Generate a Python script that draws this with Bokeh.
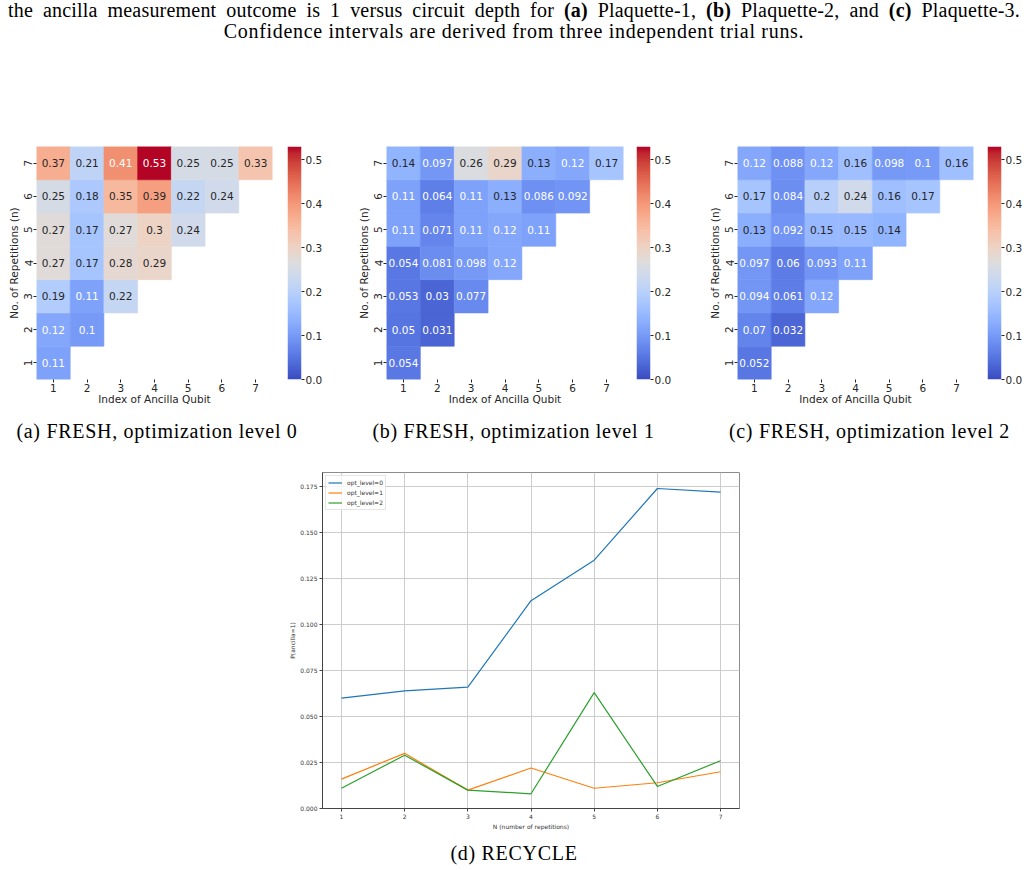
import numpy as np
from bokeh.plotting import figure
from bokeh.models import (ColumnDataSource, LinearColorMapper, FixedTicker,
                          PrintfTickFormatter, Range1d, Div, Spacer)
from bokeh.transform import transform
from bokeh.layouts import column, row
from bokeh.embed import file_html
from bokeh.resources import INLINE
from bokeh.core.properties import value

SANS = "DejaVu Sans"
SERIF = "Liberation Serif"
INK = "#262626"

# ---------------------------------------------------------------- data
ancilla_index = [1, 2, 3, 4, 5, 6, 7]
repetitions = [1, 2, 3, 4, 5, 6, 7]

# P(ancilla = 1), FRESH scheme; row k holds n = k + 1 repetitions, ancillas 1..n
fresh_opt0 = [
    [0.11],
    [0.12, 0.1],
    [0.19, 0.11, 0.22],
    [0.27, 0.17, 0.28, 0.29],
    [0.27, 0.17, 0.27, 0.3, 0.24],
    [0.25, 0.18, 0.35, 0.39, 0.22, 0.24],
    [0.37, 0.21, 0.41, 0.53, 0.25, 0.25, 0.33],
]
fresh_opt1 = [
    [0.054],
    [0.05, 0.031],
    [0.053, 0.03, 0.077],
    [0.054, 0.081, 0.098, 0.12],
    [0.11, 0.071, 0.11, 0.12, 0.11],
    [0.11, 0.064, 0.11, 0.13, 0.086, 0.092],
    [0.14, 0.097, 0.26, 0.29, 0.13, 0.12, 0.17],
]
fresh_opt2 = [
    [0.052],
    [0.07, 0.032],
    [0.094, 0.061, 0.12],
    [0.097, 0.06, 0.093, 0.11],
    [0.13, 0.092, 0.15, 0.15, 0.14],
    [0.17, 0.084, 0.2, 0.24, 0.16, 0.17],
    [0.12, 0.088, 0.12, 0.16, 0.098, 0.1, 0.16],
]
cbar_ticks = [0.0, 0.1, 0.2, 0.3, 0.4, 0.5]

# RECYCLE scheme
recycle_n = [1, 2, 3, 4, 5, 6, 7]
recycle_opt0 = [0.060, 0.064, 0.066, 0.113, 0.135, 0.174, 0.172]
recycle_opt1 = [0.016, 0.030, 0.010, 0.022, 0.011, 0.014, 0.020]
recycle_opt2 = [0.011, 0.029, 0.010, 0.008, 0.063, 0.012, 0.026]
recycle_yticks = [0.0, 0.025, 0.05, 0.075, 0.1, 0.125, 0.15, 0.175]

VMAX = max(max(r) for r in fresh_opt0 + fresh_opt1 + fresh_opt2)

# ---------------------------------------------------------------- colour map
COOLWARM = [
    (59, 76, 192), (68, 90, 204), (77, 104, 215), (87, 117, 225), (98, 130, 234),
    (108, 142, 241), (119, 154, 247), (130, 165, 251), (141, 176, 254), (152, 185, 255),
    (163, 194, 255), (174, 201, 253), (184, 208, 249), (194, 213, 244), (204, 217, 238),
    (213, 219, 230), (221, 221, 221), (229, 216, 209), (236, 211, 197), (241, 204, 185),
    (245, 196, 173), (247, 187, 160), (247, 177, 148), (247, 166, 135), (244, 154, 123),
    (241, 141, 111), (236, 127, 99), (229, 112, 88), (222, 96, 77), (213, 80, 66),
    (203, 62, 56), (192, 40, 47), (180, 4, 38),
]


def build_palette(n=256):
    out = []
    m = len(COOLWARM) - 1
    for i in range(n):
        pos = i / (n - 1) * m
        k = min(int(pos), m - 1)
        f = pos - k
        c = [round(a + (b - a) * f) for a, b in zip(COOLWARM[k], COOLWARM[k + 1])]
        out.append("#%02x%02x%02x" % tuple(c))
    return out


PALETTE = build_palette()


def rel_lum(hexcol):
    rgb = [int(hexcol[i:i + 2], 16) / 255 for i in (1, 3, 5)]
    lin = [c / 12.92 if c <= 0.03928 else ((c + 0.055) / 1.055) ** 2.4 for c in rgb]
    return 0.2126 * lin[0] + 0.7152 * lin[1] + 0.0722 * lin[2]


def text_color(v):
    idx = min(int(v / VMAX * len(PALETTE)), len(PALETTE) - 1)
    return "white" if rel_lum(PALETTE[idx]) < 0.408 else INK


# ---------------------------------------------------------------- heatmaps
HM_H = 280
HM_TOP = 10
HM_BOTTOM = 37
HM_FONT = "10.5px"


def heatmap(values, left, frame_w, right):
    xs, ys, vs, labels, tcs = [], [], [], [], []
    for n, row_vals in zip(repetitions, values):
        for k, v in zip(ancilla_index, row_vals):
            xs.append(k)
            ys.append(n)
            vs.append(v)
            labels.append(format(v, ".2g"))
            tcs.append(text_color(v))
    src = ColumnDataSource(dict(x=xs, y=ys, v=vs, label=labels, tc=tcs))
    mapper = LinearColorMapper(palette=PALETTE, low=0, high=VMAX)

    p = figure(width=left + frame_w + right, height=HM_H,
               x_range=Range1d(0.5, 7.5), y_range=Range1d(0.5, 7.5),
               output_backend="svg", toolbar_location=None,
               min_border_left=left, min_border_right=right,
               min_border_top=HM_TOP, min_border_bottom=HM_BOTTOM)
    p.rect("x", "y", 1, 1, source=src, fill_color=transform("v", mapper),
           line_color=transform("v", mapper), line_width=0.6)
    p.text("x", "y", text="label", source=src, text_color="tc",
           text_align="center", text_baseline="middle",
           text_font=value(SANS), text_font_size=value(HM_FONT))

    p.xgrid.visible = False
    p.ygrid.visible = False
    p.outline_line_color = None
    p.background_fill_color = "white"
    p.border_fill_color = "white"

    p.xaxis.ticker = FixedTicker(ticks=ancilla_index)
    p.yaxis.ticker = FixedTicker(ticks=repetitions)
    p.xaxis.axis_label = "Index of Ancilla Qubit"
    p.yaxis.axis_label = "No. of Repetitions (n)"
    p.yaxis.major_label_orientation = "vertical"
    for ax in (p.xaxis, p.yaxis):
        ax.axis_line_color = None
        ax.minor_tick_line_color = None
        ax.major_tick_in = 0
        ax.major_tick_out = 3
        ax.major_tick_line_color = INK
        ax.major_label_standoff = 1
        ax.major_label_text_font = SANS
        ax.major_label_text_font_size = HM_FONT
        ax.major_label_text_color = INK
        ax.axis_label_text_font = SANS
        ax.axis_label_text_font_size = HM_FONT
        ax.axis_label_text_font_style = "normal"
        ax.axis_label_text_color = INK
    p.xaxis.axis_label_standoff = -2
    p.yaxis.axis_label_standoff = 2
    return p, mapper


def colorbar(mapper, right):
    p = figure(width=14 + right, height=HM_H,
               x_range=Range1d(0, 1), y_range=Range1d(0, VMAX),
               y_axis_location="right",
               output_backend="svg", toolbar_location=None,
               min_border_left=0, min_border_right=right,
               min_border_top=HM_TOP, min_border_bottom=HM_BOTTOM)
    grad = np.linspace(0, VMAX, 256).reshape(256, 1)
    p.image(image=[grad], x=0, y=0, dw=1, dh=VMAX, color_mapper=mapper)
    p.xaxis.visible = False
    p.xgrid.visible = False
    p.ygrid.visible = False
    p.outline_line_color = None
    ax = p.yaxis
    ax.ticker = FixedTicker(ticks=cbar_ticks)
    ax.formatter = PrintfTickFormatter(format="%.1f")
    ax.axis_line_color = None
    ax.minor_tick_line_color = None
    ax.major_tick_in = 0
    ax.major_tick_out = 3
    ax.major_tick_line_color = INK
    ax.major_label_standoff = 1
    ax.major_label_text_font = SANS
    ax.major_label_text_font_size = HM_FONT
    ax.major_label_text_color = INK
    return p


fa, ma = heatmap(fresh_opt0, 36, 236, 15)
ca = colorbar(ma, 49)
fb, mb = heatmap(fresh_opt1, 36, 237, 13)
cb = colorbar(mb, 50)
fc, mc = heatmap(fresh_opt2, 37, 236, 14)
cc = colorbar(mc, 25)

# ---------------------------------------------------------------- recycle line chart
LC_FONT = "6px"
d = figure(width=489, height=392,
           x_range=Range1d(0.7, 7.3), y_range=Range1d(0, 0.1827),
           output_backend="svg", toolbar_location=None,
           min_border_left=52, min_border_right=20,
           min_border_top=26, min_border_bottom=30)
d.line(recycle_n, recycle_opt0, color="#1f77b4", line_width=1.2, legend_label="opt_level=0")
d.line(recycle_n, recycle_opt1, color="#ff7f0e", line_width=1.2, legend_label="opt_level=1")
d.line(recycle_n, recycle_opt2, color="#2ca02c", line_width=1.2, legend_label="opt_level=2")

d.xaxis.ticker = FixedTicker(ticks=recycle_n)
d.yaxis.ticker = FixedTicker(ticks=recycle_yticks)
d.yaxis.formatter = PrintfTickFormatter(format="%.3f")
d.xaxis.axis_label = "N (number of repetitions)"
d.yaxis.axis_label = "P(ancilla=1)"
for ax in (d.xaxis, d.yaxis):
    ax.axis_line_color = "#444444"
    ax.minor_tick_line_color = None
    ax.major_tick_in = 0
    ax.major_tick_out = 3
    ax.major_tick_line_color = "#444444"
    ax.major_label_standoff = 2
    ax.axis_label_standoff = 1
    ax.major_label_text_font = SANS
    ax.major_label_text_font_size = LC_FONT
    ax.major_label_text_color = "#333333"
    ax.axis_label_text_font = SANS
    ax.axis_label_text_font_size = LC_FONT
    ax.axis_label_text_font_style = "normal"
    ax.axis_label_text_color = "#333333"
for g in (d.xgrid, d.ygrid):
    g.grid_line_color = "#cccccc"
    g.grid_line_width = 1
d.outline_line_color = "#8c8c8c"
d.outline_line_width = 1

lg = d.legend[0]
lg.location = "top_left"
lg.margin = 3
lg.padding = 2
lg.spacing = 1
lg.glyph_width = 14
lg.glyph_height = 9
lg.label_height = 9
lg.label_standoff = 5
lg.label_text_font = SANS
lg.label_text_font_size = LC_FONT
lg.label_text_color = "#333333"
lg.border_line_color = "#cccccc"
lg.background_fill_alpha = 0.8

# ---------------------------------------------------------------- captions
cap_style = {"font-family": SERIF, "font-size": "20px", "letter-spacing": "0.7px",
             "color": "#000000"}

caption_style = dict(cap_style)
caption_style.update({"width": "1026px", "line-height": "21px"})
caption = Div(
    text=(
        '<div style="width:1012px; margin-left:8px; letter-spacing:0.2px; '
        'text-align:justify; text-align-last:justify;">'
        'the ancilla measurement outcome is 1 versus circuit depth for '
        '<b>(a)</b> Plaquette-1, <b>(b)</b> Plaquette-2, and <b>(c)</b> Plaquette-3.</div>'
        '<div style="width:1028px; text-align:center;">Confidence intervals are derived '
        'from three independent trial runs.</div>'
    ),
    width=1026, height=136, margin=(0, 0, 0, 0), styles=caption_style,
)


def subcap(text, width):
    st = dict(cap_style)
    st.update({"text-align": "center", "line-height": "30px", "width": f"{width}px"})
    return Div(text=text, width=width, height=30, margin=(0, 0, 0, 0), styles=st)


sub_row = row(subcap("(a) FRESH, optimization level 0", 314),
              subcap("(b) FRESH, optimization level 1", 399),
              subcap("(c) FRESH, optimization level 2", 313))

recycle_cap = subcap("(d) RECYCLE", 1028)

layout = column(
    caption,
    row(fa, ca, fb, cb, fc, cc),
    sub_row,
    row(Spacer(width=270, height=392), d),
    recycle_cap,
)

open("out.html", "w").write(file_html(layout, INLINE))
